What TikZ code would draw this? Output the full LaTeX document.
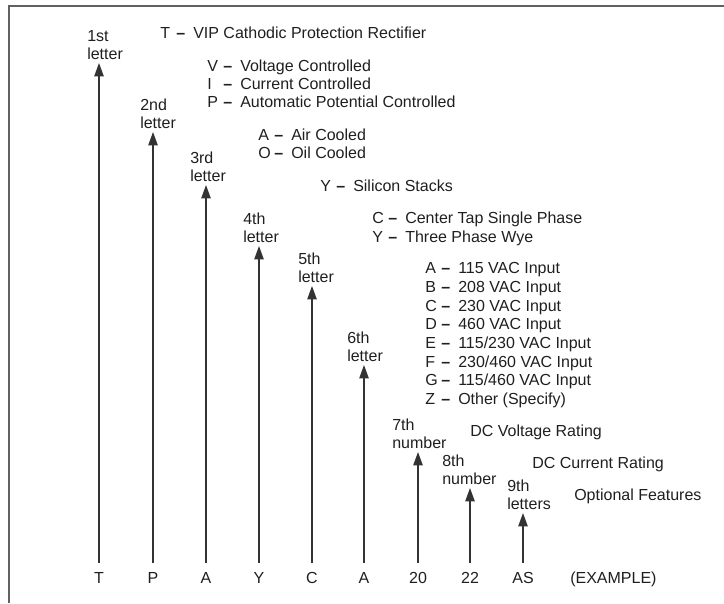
\documentclass[tikz,border=0pt]{standalone}
\usepackage{fontspec}
\setmainfont{Liberation Sans}
\usetikzlibrary{arrows.meta}
\newcommand{\kv}[2]{\makebox[12pt][l]{#1}\makebox[12.75pt][l]{\textbf{--}}#2}
\begin{document}
\begin{tikzpicture}[x=0.75pt,y=-0.75pt,
  font=\fontsize{12}{13.5}\selectfont,
  txt/.style={anchor=base west, inner sep=0pt, text=black!88},
  bot/.style={anchor=base, inner sep=0pt, text=black!88},
  arr/.style={draw=black!80, line width=1.1pt, -{Triangle[length=10pt,width=7pt]}},
  frame/.style={draw=black!62, line width=1.6pt}]
\useasboundingbox (0,0) rectangle (724,603);
\draw[frame] (9,603) -- (9,6) -- (724,6);
% arrows, position labels and example letters
\foreach \i/\x/\t/\lx/\la/\lb/\bt in {
  1/99/63/87/1st/letter/T,
  2/153/132/140/2nd/letter/P,
  3/206/185/190/3rd/letter/A,
  4/259/246/243/4th/letter/Y,
  5/312/286/298/5th/letter/C,
  6/364/365/347/6th/letter/A,
  7/418/452/392/7th/number/20,
  8/470/488/442/8th/number/22,
  9/523/513/507/9th/letters/AS}{
  \node[bot] (b\i) at (\x,583.5) {\bt};
  \coordinate (s\i) at (\x,563);
  \coordinate (t\i) at (\x,\t);
  \draw[arr] (s\i) -- (t\i);
  \node[txt] (la\i) at (\lx,\t-22) {\la};
  \node[txt] (lb\i) at (\lx,\t-4) {\lb};
}
\node[txt] (ex) at (570,583.5) {(EXAMPLE)};
% key entries
\node[txt] (k1) at (160,38.7) {\kv{T}{VIP Cathodic Protection Rectifier}};
\node[txt] (k2a) at (207,71.7) {\kv{V}{Voltage Controlled}};
\node[txt] (k2b) at (207,89.7) {\kv{I}{Current Controlled}};
\node[txt] (k2c) at (207,107.7) {\kv{P}{Automatic Potential Controlled}};
\node[txt] (k3a) at (258,140.7) {\kv{A}{Air Cooled}};
\node[txt] (k3b) at (258,158.7) {\kv{O}{Oil Cooled}};
\node[txt] (k4) at (320,191.7) {\kv{Y}{Silicon Stacks}};
\node[txt] (k5a) at (372,223.7) {\kv{C}{Center Tap Single Phase}};
\node[txt] (k5b) at (372,242.7) {\kv{Y}{Three Phase Wye}};
\node[txt] (k6a) at (425,273.7) {\kv{A}{115 VAC Input}};
\node[txt] (k6b) at (425,292.4) {\kv{B}{208 VAC Input}};
\node[txt] (k6c) at (425,311.1) {\kv{C}{230 VAC Input}};
\node[txt] (k6d) at (425,329.8) {\kv{D}{460 VAC Input}};
\node[txt] (k6e) at (425,348.5) {\kv{E}{115/230 VAC Input}};
\node[txt] (k6f) at (425,367.2) {\kv{F}{230/460 VAC Input}};
\node[txt] (k6g) at (425,385.9) {\kv{G}{115/460 VAC Input}};
\node[txt] (k6z) at (425,404.6) {\kv{Z}{Other (Specify)}};
\node[txt] (k7) at (470,436.7) {DC Voltage Rating};
\node[txt] (k8) at (532,468.7) {DC Current Rating};
\node[txt] (k9) at (574,500.7) {Optional Features};
\end{tikzpicture}
\end{document}
